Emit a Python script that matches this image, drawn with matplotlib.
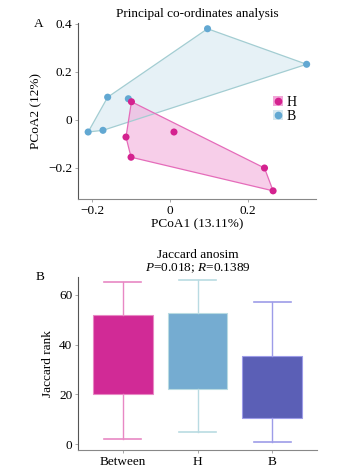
import matplotlib
matplotlib.use("Agg")
import matplotlib.pyplot as plt
from matplotlib.patches import Patch, Polygon
from matplotlib.lines import Line2D
from matplotlib.legend_handler import HandlerTuple
import numpy as np

plt.rcParams['font.family'] = ['Liberation Serif', 'DejaVu Serif']
plt.rcParams['mathtext.fontset'] = 'custom'
plt.rcParams['mathtext.it'] = 'Liberation Serif:italic'
plt.rcParams['mathtext.rm'] = 'Liberation Serif'

# ---- Panel A data (PCoA) ----
groups = ["H", "B"]
h_x = [-0.099, 0.010, -0.113, -0.100, 0.242, 0.264]
h_y = [0.075, -0.051, -0.072, -0.156, -0.201, -0.296]
b_x = [0.096, 0.350, -0.160, -0.107, -0.210, -0.172]
b_y = [0.379, 0.231, 0.094, 0.0875, -0.051, -0.044]
xticks_a = [-0.2, 0, 0.2]
yticks_a = [-0.2, 0, 0.2, 0.4]

# ---- Panel B data (anosim boxes) ----
categories = ["Between", "H", "B"]
q1 = [20.1, 22.1, 10.5]
q3 = [51.8, 52.6, 35.6]
med = [36.0, 37.0, 23.0]
whislo = [1.9, 5.0, 0.9]
whishi = [65.1, 66.0, 57.0]
yticks_b = [0, 20, 40, 60]

pt_colors = {"H": "#d4228f", "B": "#62a8d2"}
fill_colors = {"H": "#f2a6d8", "B": "#d6e8f0"}
edge_colors = {"H": "#e56cba", "B": "#a3cdd2"}
box_colors = ["#d12a96", "#75acd1", "#5b5fb6"]
whisk_colors = ["#e888c4", "#b9dbe2", "#9d9ce8"]


def hull(pts):
    pts = sorted(set(pts))
    def cross(o, a, b):
        return (a[0]-o[0])*(b[1]-o[1]) - (a[1]-o[1])*(b[0]-o[0])
    lower, upper = [], []
    for p in pts:
        while len(lower) >= 2 and cross(lower[-2], lower[-1], p) <= 0:
            lower.pop()
        lower.append(p)
    for p in reversed(pts):
        while len(upper) >= 2 and cross(upper[-2], upper[-1], p) <= 0:
            upper.pop()
        upper.append(p)
    return lower[:-1] + upper[:-1]


fig = plt.figure(figsize=(3.6, 4.71), dpi=100)

# ---------------- Panel A ----------------
axA = fig.add_axes([78/360, 1-199/471, 238/360, 176.5/471])
data = {"H": (h_x, h_y), "B": (b_x, b_y)}
for g in ["B", "H"]:
    xs, ys = data[g]
    hp = hull(list(zip(xs, ys)))
    alpha = 0.55 if g == "H" else 0.6
    axA.add_patch(Polygon(hp, closed=True, facecolor=fill_colors[g], alpha=alpha,
                          edgecolor='none', zorder=1))
    axA.add_patch(Polygon(hp, closed=True, facecolor='none',
                          edgecolor=edge_colors[g], lw=0.9, zorder=2))
for g in ["B", "H"]:
    xs, ys = data[g]
    axA.scatter(xs, ys, s=26, color=pt_colors[g], zorder=3, edgecolors='none')

axA.set_xlim(-0.236, 0.374)
axA.set_ylim(-0.33, 0.405)
axA.set_xticks(xticks_a)
axA.set_xticklabels(["\u22120.2", "0", "0.2"])
axA.set_yticks(yticks_a)
axA.set_yticklabels(["\u22120.2", "0", "0.2", "0.4"])
for s in ["top", "right"]:
    axA.spines[s].set_visible(False)
axA.spines["left"].set_color("#555555")
axA.spines["bottom"].set_color("#888888")
axA.tick_params(axis='both', length=2, width=0.6, color="#999999", labelsize=9.5, pad=2)
axA.set_xlabel("PCoA1 (13.11%)", fontsize=9.5, labelpad=1)
axA.set_ylabel("PCoA2 (12%)", fontsize=9.5, labelpad=4)
axA.set_title("Principal co-ordinates analysis", fontsize=9.5, pad=4)

handles = []
for g in groups:
    handles.append((Patch(facecolor=fill_colors[g], edgecolor='none'),
                    Line2D([], [], marker='o', ls='none', color=pt_colors[g], markersize=4.5)))
axA.legend(handles, groups, handler_map={tuple: HandlerTuple(ndivide=1, pad=0)},
           loc='upper left', bbox_to_anchor=(0.795, 0.615), frameon=False, fontsize=10,
           handlelength=0.75, handleheight=0.75, handletextpad=0.25, labelspacing=0.05,
           borderaxespad=0)
fig.text(39/360, 1-24/471, "A", fontsize=9.5, ha='center', va='center')

# ---------------- Panel B ----------------
axB = fig.add_axes([78/360, 1-450/471, 239/360, 173/471])
stats = []
for i, c in enumerate(categories):
    stats.append(dict(label=c, q1=q1[i], q3=q3[i], med=med[i],
                      whislo=whislo[i], whishi=whishi[i], fliers=[]))
positions = list(range(len(categories)))
bp = axB.bxp(stats, positions=positions, widths=0.8, patch_artist=True,
             showfliers=False, capwidths=0.5)
for i in range(len(categories)):
    bp['boxes'][i].set_facecolor(box_colors[i])
    bp['boxes'][i].set_edgecolor(whisk_colors[i])
    bp['boxes'][i].set_linewidth(0.8)
    bp['medians'][i].set_visible(False)
    for w in bp['whiskers'][2*i:2*i+2]:
        w.set_color(whisk_colors[i]); w.set_linewidth(1.0)
    for cp in bp['caps'][2*i:2*i+2]:
        cp.set_color(whisk_colors[i]); cp.set_linewidth(1.2)

axB.set_xlim(-0.6, 2.6)
axB.set_ylim(-2.4, 67.2)
axB.set_yticks(yticks_b)
axB.set_xticks(positions)
axB.set_xticklabels(categories)
for s in ["top", "right"]:
    axB.spines[s].set_visible(False)
axB.spines["left"].set_color("#555555")
axB.spines["bottom"].set_color("#888888")
axB.tick_params(axis='both', length=2, width=0.6, color="#999999", labelsize=9.5, pad=2)
axB.set_ylabel("Jaccard rank", fontsize=9.5, labelpad=4)
axB.set_title("Jaccard anosim\n$P$=0.018; $R$=0.1389", fontsize=9.5, pad=4, linespacing=1.1)
fig.text(40/360, 1-277/471, "B", fontsize=9.5, ha='center', va='center')

fig.savefig("out.png", dpi=100)
